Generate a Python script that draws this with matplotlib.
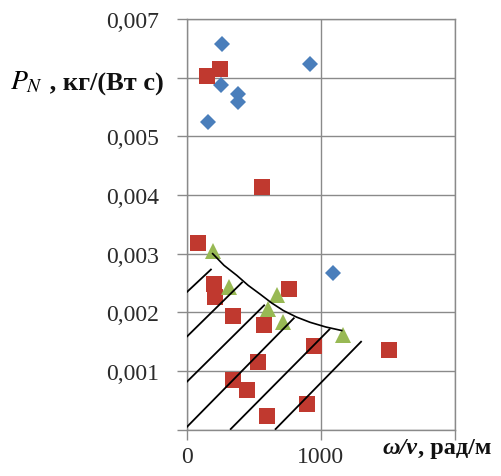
import matplotlib
matplotlib.use("Agg")
import matplotlib.pyplot as plt
import numpy as np

plt.rcParams["font.family"] = ["Liberation Serif", "DejaVu Serif"]
plt.rcParams["mathtext.fontset"] = "stix"

# ---- data ----
blue_x = [267, 922, 255, 387, 387, 163, 1096]
blue_y = [0.00658, 0.00623, 0.00588, 0.00572, 0.00558, 0.00524, 0.00267]

red_x = [151, 250, 566, 83, 205, 213, 350, 767, 581, 954, 536, 349, 449, 897, 598, 1513]
red_y = [0.00603, 0.00614, 0.00413, 0.00318, 0.00248, 0.00226, 0.00194, 0.00240,
         0.00179, 0.00142, 0.00116, 0.00084, 0.00067, 0.00044, 0.00024, 0.00136]

green_x = [195, 320, 673, 610, 722, 1170]
green_y = [0.00305, 0.00243, 0.00230, 0.00205, 0.00183, 0.00162]

# boundary curve
curve_x = [195, 280, 375, 460, 549, 635, 723, 820, 922, 1040, 1158]
curve_y = [0.00300, 0.00280, 0.00263, 0.00246, 0.00231, 0.00216, 0.00203, 0.00192,
           0.00183, 0.00175, 0.00169]

# hatch segments: (x0, y0, x1, y1)
hatch = [
    (0, 0.00234, 187, 0.00274),
    (0, 0.00158, 419, 0.00252),
    (0, 0.00081, 584, 0.00213),
    (0, 0.00004, 805, 0.00191),
    (325, 0.0, 1071, 0.00172),
    (660, 0.0, 1307, 0.00151),
]

x_ticks = [0, 1000, 2000]
x_labels = ["0", "1000", ""]
y_ticks = [0, 0.001, 0.002, 0.003, 0.004, 0.005, 0.006, 0.007]
y_labels = ["", "0,001", "0,002", "0,003", "0,004", "0,005", "", "0,007"]

grid_c = "#8a8a8a"

fig = plt.figure(figsize=(5.01, 4.77), dpi=100)
ax = fig.add_axes([0.3723, 0.0971, 0.535, 0.861])

ax.plot(blue_x, blue_y, "D", color="#4a7ebb", markersize=7.8, markeredgewidth=0, zorder=3)
ax.plot(red_x, red_y, "s", color="#c0392f", markersize=12, markeredgewidth=0, zorder=3)
ax.plot(green_x, green_y, "^", color="#98b954", markersize=11, markeredgewidth=0, zorder=4)

ax.plot(curve_x, curve_y, color="black", lw=1.2, zorder=5)
for x0, y0, x1, y1 in hatch:
    ax.plot([x0, x1], [y0, y1], color="black", lw=1.3, zorder=5, solid_capstyle="butt")

ax.set_xlim(0, 2000)
ax.set_ylim(0, 0.007)
ax.set_xticks(x_ticks)
ax.set_xticklabels(x_labels)
ax.set_yticks(y_ticks)
ax.set_yticklabels(y_labels)
ax.tick_params(axis="both", direction="out", length=7, width=1, color=grid_c,
               labelsize=17, labelcolor="#2a2a2a")
ax.tick_params(axis="y", pad=13)
ax.tick_params(axis="x", pad=5)
ax.grid(True, color=grid_c, lw=1)
ax.set_axisbelow(True)
for s in ax.spines.values():
    s.set_color(grid_c)
    s.set_linewidth(1)

# axis titles
t1 = fig.text(0.020, 0.812, r"$P_N$", fontsize=20, va="baseline", ha="left")
ax.annotate(" , кг/(Вт с)", xy=(1, 0), xycoords=t1, xytext=(0, 0), textcoords="offset points",
            fontsize=19, fontweight="bold", va="bottom", ha="left", color="#111111")
t2 = fig.text(0.764, 0.048, r"ω/v", fontsize=17.5, fontweight="bold", fontstyle="italic",
              va="baseline", ha="left", color="#111111")
ax.annotate(", рад/м", xy=(1, 0), xycoords=t2, fontsize=17.5, fontweight="bold",
            va="bottom", ha="left", color="#111111")

fig.savefig("out.png", dpi=100)
